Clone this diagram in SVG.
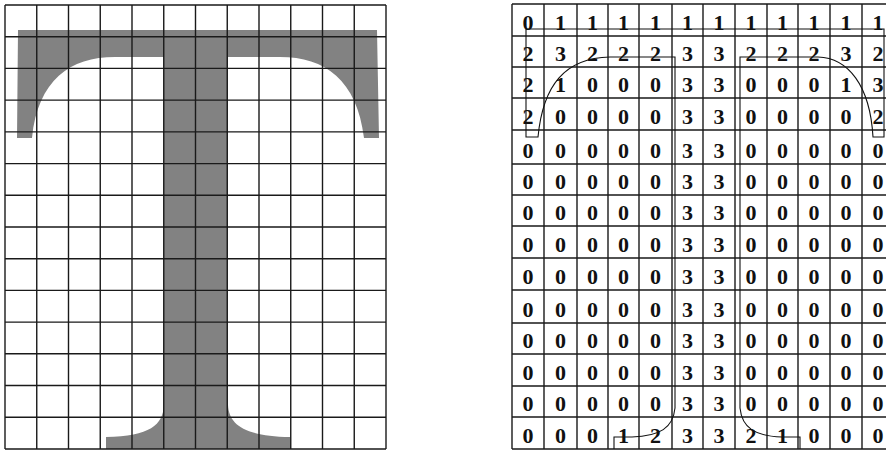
<svg xmlns="http://www.w3.org/2000/svg" width="886" height="452" viewBox="0 0 886 452">
<style>
.grid{fill:none;stroke:#1a1a1a;stroke-width:1.4}
.glyph{fill:#828282;stroke:none}
.contour{fill:none;stroke:#111;stroke-width:1.1}
.num{font-family:"Liberation Serif","Times New Roman",serif;font-size:22px;font-weight:bold;fill:#111;text-anchor:middle}
</style>
<rect width="886" height="452" fill="#ffffff"/>
<g id="left-panel">
<path class="glyph" d="M18,30 L377,30 L379,138 L364,138 C357,80 325,57 280,57 L228,57 L228,405 C229,425 245,436 290,437 L290,449 L106,449 L106,437 C150,436 163,425 164,405 L164,57 L115,57 C70,57 38,80 32,138 L17,138 Z"/>
<path class="grid" d="M5,5V449M36.75,5V449M68.5,5V449M100.25,5V449M132,5V449M163.75,5V449M195.5,5V449M227.25,5V449M259,5V449M290.75,5V449M322.5,5V449M354.25,5V449M386,5V449
M5,5H386M5,36.7H386M5,68.4H386M5,100.1H386M5,131.9H386M5,163.6H386M5,195.3H386M5,227H386M5,258.7H386M5,290.4H386M5,322.1H386M5,353.8H386M5,385.5H386M5,417.2H386M5,449H386"/>
</g>
<g id="right-panel">
<path class="grid" d="M512,4V449M544,4V449M577,4V449M608,4V449M639,4V449M672,4V449M703,4V449M735,4V449M767,4V449M798,4V449M830,4V449M862,4V449
M512,4H894M512,36H894M512,67H894M512,98H894M512,130H894M512,164H894M512,195H894M512,226H894M512,258H894M512,290H894M512,323H894M512,354H894M512,386H894M512,417H894M512,449H894"/>
<g id="outline">
<path class="contour" d="M526,29H884V137H873C870,85 848,58 818,57H740V408C742,428 755,436 782,437H800V449"/>
<path class="contour" d="M526,29V137H538C543,85 565,58 610,57H675V408C673,428 660,436 632,437H614V449"/>
</g>
<g id="values">
<text class="num" x="528" y="30">0</text><text class="num" x="560.5" y="30">1</text><text class="num" x="592.5" y="30">1</text><text class="num" x="623.5" y="30">1</text><text class="num" x="655.5" y="30">1</text><text class="num" x="687.5" y="30">1</text><text class="num" x="719" y="30">1</text><text class="num" x="751" y="30">1</text><text class="num" x="782.5" y="30">1</text><text class="num" x="814" y="30">1</text><text class="num" x="846" y="30">1</text><text class="num" x="878" y="30">1</text>
<text class="num" x="528" y="61">2</text><text class="num" x="560.5" y="61">3</text><text class="num" x="592.5" y="61">2</text><text class="num" x="623.5" y="61">2</text><text class="num" x="655.5" y="61">2</text><text class="num" x="687.5" y="61">3</text><text class="num" x="719" y="61">3</text><text class="num" x="751" y="61">2</text><text class="num" x="782.5" y="61">2</text><text class="num" x="814" y="61">2</text><text class="num" x="846" y="61">3</text><text class="num" x="878" y="61">2</text>
<text class="num" x="528" y="92">2</text><text class="num" x="560.5" y="92">1</text><text class="num" x="592.5" y="92">0</text><text class="num" x="623.5" y="92">0</text><text class="num" x="655.5" y="92">0</text><text class="num" x="687.5" y="92">3</text><text class="num" x="719" y="92">3</text><text class="num" x="751" y="92">0</text><text class="num" x="782.5" y="92">0</text><text class="num" x="814" y="92">0</text><text class="num" x="846" y="92">1</text><text class="num" x="878" y="92">3</text>
<text class="num" x="528" y="124">2</text><text class="num" x="560.5" y="124">0</text><text class="num" x="592.5" y="124">0</text><text class="num" x="623.5" y="124">0</text><text class="num" x="655.5" y="124">0</text><text class="num" x="687.5" y="124">3</text><text class="num" x="719" y="124">3</text><text class="num" x="751" y="124">0</text><text class="num" x="782.5" y="124">0</text><text class="num" x="814" y="124">0</text><text class="num" x="846" y="124">0</text><text class="num" x="878" y="124">2</text>
<text class="num" x="528" y="158">0</text><text class="num" x="560.5" y="158">0</text><text class="num" x="592.5" y="158">0</text><text class="num" x="623.5" y="158">0</text><text class="num" x="655.5" y="158">0</text><text class="num" x="687.5" y="158">3</text><text class="num" x="719" y="158">3</text><text class="num" x="751" y="158">0</text><text class="num" x="782.5" y="158">0</text><text class="num" x="814" y="158">0</text><text class="num" x="846" y="158">0</text><text class="num" x="878" y="158">0</text>
<text class="num" x="528" y="189">0</text><text class="num" x="560.5" y="189">0</text><text class="num" x="592.5" y="189">0</text><text class="num" x="623.5" y="189">0</text><text class="num" x="655.5" y="189">0</text><text class="num" x="687.5" y="189">3</text><text class="num" x="719" y="189">3</text><text class="num" x="751" y="189">0</text><text class="num" x="782.5" y="189">0</text><text class="num" x="814" y="189">0</text><text class="num" x="846" y="189">0</text><text class="num" x="878" y="189">0</text>
<text class="num" x="528" y="220">0</text><text class="num" x="560.5" y="220">0</text><text class="num" x="592.5" y="220">0</text><text class="num" x="623.5" y="220">0</text><text class="num" x="655.5" y="220">0</text><text class="num" x="687.5" y="220">3</text><text class="num" x="719" y="220">3</text><text class="num" x="751" y="220">0</text><text class="num" x="782.5" y="220">0</text><text class="num" x="814" y="220">0</text><text class="num" x="846" y="220">0</text><text class="num" x="878" y="220">0</text>
<text class="num" x="528" y="252">0</text><text class="num" x="560.5" y="252">0</text><text class="num" x="592.5" y="252">0</text><text class="num" x="623.5" y="252">0</text><text class="num" x="655.5" y="252">0</text><text class="num" x="687.5" y="252">3</text><text class="num" x="719" y="252">3</text><text class="num" x="751" y="252">0</text><text class="num" x="782.5" y="252">0</text><text class="num" x="814" y="252">0</text><text class="num" x="846" y="252">0</text><text class="num" x="878" y="252">0</text>
<text class="num" x="528" y="284">0</text><text class="num" x="560.5" y="284">0</text><text class="num" x="592.5" y="284">0</text><text class="num" x="623.5" y="284">0</text><text class="num" x="655.5" y="284">0</text><text class="num" x="687.5" y="284">3</text><text class="num" x="719" y="284">3</text><text class="num" x="751" y="284">0</text><text class="num" x="782.5" y="284">0</text><text class="num" x="814" y="284">0</text><text class="num" x="846" y="284">0</text><text class="num" x="878" y="284">0</text>
<text class="num" x="528" y="317">0</text><text class="num" x="560.5" y="317">0</text><text class="num" x="592.5" y="317">0</text><text class="num" x="623.5" y="317">0</text><text class="num" x="655.5" y="317">0</text><text class="num" x="687.5" y="317">3</text><text class="num" x="719" y="317">3</text><text class="num" x="751" y="317">0</text><text class="num" x="782.5" y="317">0</text><text class="num" x="814" y="317">0</text><text class="num" x="846" y="317">0</text><text class="num" x="878" y="317">0</text>
<text class="num" x="528" y="348">0</text><text class="num" x="560.5" y="348">0</text><text class="num" x="592.5" y="348">0</text><text class="num" x="623.5" y="348">0</text><text class="num" x="655.5" y="348">0</text><text class="num" x="687.5" y="348">3</text><text class="num" x="719" y="348">3</text><text class="num" x="751" y="348">0</text><text class="num" x="782.5" y="348">0</text><text class="num" x="814" y="348">0</text><text class="num" x="846" y="348">0</text><text class="num" x="878" y="348">0</text>
<text class="num" x="528" y="380">0</text><text class="num" x="560.5" y="380">0</text><text class="num" x="592.5" y="380">0</text><text class="num" x="623.5" y="380">0</text><text class="num" x="655.5" y="380">0</text><text class="num" x="687.5" y="380">3</text><text class="num" x="719" y="380">3</text><text class="num" x="751" y="380">0</text><text class="num" x="782.5" y="380">0</text><text class="num" x="814" y="380">0</text><text class="num" x="846" y="380">0</text><text class="num" x="878" y="380">0</text>
<text class="num" x="528" y="411">0</text><text class="num" x="560.5" y="411">0</text><text class="num" x="592.5" y="411">0</text><text class="num" x="623.5" y="411">0</text><text class="num" x="655.5" y="411">0</text><text class="num" x="687.5" y="411">3</text><text class="num" x="719" y="411">3</text><text class="num" x="751" y="411">0</text><text class="num" x="782.5" y="411">0</text><text class="num" x="814" y="411">0</text><text class="num" x="846" y="411">0</text><text class="num" x="878" y="411">0</text>
<text class="num" x="528" y="443">0</text><text class="num" x="560.5" y="443">0</text><text class="num" x="592.5" y="443">0</text><text class="num" x="623.5" y="443">1</text><text class="num" x="655.5" y="443">2</text><text class="num" x="687.5" y="443">3</text><text class="num" x="719" y="443">3</text><text class="num" x="751" y="443">2</text><text class="num" x="782.5" y="443">1</text><text class="num" x="814" y="443">0</text><text class="num" x="846" y="443">0</text><text class="num" x="878" y="443">0</text>
</g>
</g>
</svg>
